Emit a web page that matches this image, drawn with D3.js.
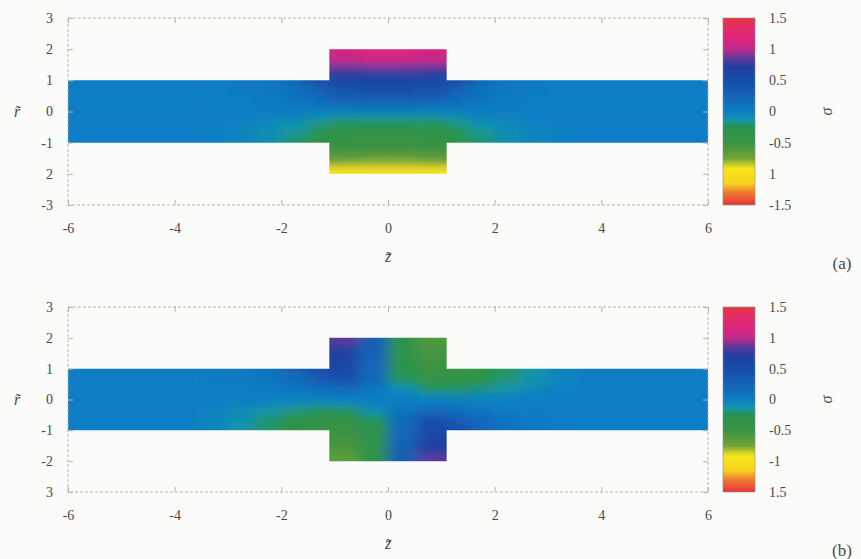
<!DOCTYPE html>
<html>
<head>
<meta charset="utf-8">
<script src="https://cdn.jsdelivr.net/npm/d3@7"></script>
<style>
  body { margin: 0; background: #fbfbf9; }
  text { font-family: "Liberation Serif", "DejaVu Serif", serif; fill: #4a4a4a; }
</style>
</head>
<body>
<div id="chart"></div>
<script>
// grid edges (z columns and r rows)
const zEdges = [-6, -4.5, -3.5, -3, -2.5, -2, -1.5, -1.1, -0.55, 0, 0.55, 1.1, 1.5, 2, 2.5, 3, 3.5, 4.5, 6];
const cavityEdges = [-1.1, -0.55, 0, 0.55, 1.1];
const rChannel = [1, 0.75, 0.5, 0.25, 0, -0.25, -0.5, -0.75, -1];
const rUpper = [2, 1.75, 1.5, 1.25, 1];
const rLower = [-1, -1.25, -1.5, -1.75, -2];

// tick labels
const xTicks = [-6, -4, -2, 0, 2, 4, 6];
const xLabels = ["-6", "-4", "-2", "0", "2", "4", "6"];
const yTicks = [3, 2, 1, 0, -1, -2, -3];
const yLabelsA = ["3", "2", "1", "0", "-1", "2", "-3"];
const yLabelsB = ["3", "2", "1", "0", "-1", "-2", "3"];
const cTicks = [1.5, 1, 0.5, 0, -0.5, -1, -1.5];
const cLabelsA = ["1.5", "1", "0.5", "0", "-0.5", "1", "-1.5"];
const cLabelsB = ["1.5", "1", "0.5", "0", "-0.5", "-1", "1.5"];

// colour map
const stopValues = [-1.5, -1.3, -1.15, -0.92, -0.85, -0.75, -0.5, -0.24, -0.15, 0, 0.2, 0.45, 0.7, 0.85, 1.0, 1.15, 1.35, 1.5];
const stopColors = ["#e8343a", "#ef7a30", "#f6d41e", "#f8e41c", "#c6cd2a", "#6fa338", "#3b9242", "#25934f", "#1498a6", "#0a7dc5", "#1268b8", "#1550ad", "#1e40a0", "#5a3a9c", "#bf2a8a", "#dc2580", "#e42c66", "#e8343c"];

// panel (a) values
const channelA = [
  [0, 0, 0, 0.02, 0.06, 0.15, 0.35, 0.52, 0.55, 0.55, 0.52, 0.35, 0.15, 0.06, 0.02, 0, 0, 0],
  [0, 0, 0, 0.01, 0.04, 0.12, 0.28, 0.42, 0.45, 0.45, 0.42, 0.28, 0.12, 0.04, 0.01, 0, 0, 0],
  [0, 0, 0, 0, 0.02, 0.07, 0.16, 0.25, 0.28, 0.28, 0.25, 0.16, 0.07, 0.02, 0, 0, 0, 0],
  [0, 0, 0, 0, 0.01, 0.03, 0.06, 0.1, 0.11, 0.11, 0.1, 0.06, 0.03, 0.01, 0, 0, 0, 0],
  [0, 0, 0, 0, -0.01, -0.03, -0.06, -0.09, -0.1, -0.1, -0.09, -0.06, -0.03, -0.01, 0, 0, 0, 0],
  [0, 0, 0, -0.02, -0.05, -0.1, -0.18, -0.25, -0.27, -0.27, -0.25, -0.18, -0.1, -0.05, -0.02, 0, 0, 0],
  [0, 0, -0.01, -0.03, -0.08, -0.16, -0.26, -0.34, -0.36, -0.36, -0.34, -0.26, -0.16, -0.08, -0.03, -0.01, 0, 0],
  [0, 0, -0.01, -0.04, -0.1, -0.2, -0.32, -0.42, -0.45, -0.45, -0.42, -0.32, -0.2, -0.1, -0.04, -0.01, 0, 0]
];
const upperA = [
  [1.1, 1.15, 1.15, 1.1],
  [1.0, 1.05, 1.05, 1.0],
  [0.82, 0.85, 0.85, 0.82],
  [0.65, 0.68, 0.68, 0.65]
];
const lowerA = [
  [-0.48, -0.5, -0.5, -0.48],
  [-0.58, -0.6, -0.6, -0.58],
  [-0.74, -0.77, -0.77, -0.74],
  [-0.95, -0.98, -0.98, -0.95]
];

// panel (b) values
const channelB = [
  [0, 0, 0.02, 0.04, 0.1, 0.22, 0.4, 0.55, 0.2, -0.3, -0.45, -0.42, -0.35, -0.22, -0.12, -0.05, 0, 0],
  [0, 0, 0, 0.02, 0.07, 0.16, 0.32, 0.45, 0.18, -0.22, -0.4, -0.38, -0.3, -0.2, -0.11, -0.04, 0, 0],
  [0, 0, 0, 0, 0.03, 0.08, 0.16, 0.22, 0.1, -0.1, -0.25, -0.26, -0.2, -0.13, -0.07, -0.02, 0, 0],
  [0, 0, 0, 0, 0, 0.02, 0.04, 0.05, 0.02, -0.03, -0.07, -0.08, -0.07, -0.05, -0.02, 0, 0, 0],
  [0, 0, 0, -0.02, -0.05, -0.07, -0.08, -0.07, -0.03, 0.02, 0.05, 0.04, 0.02, 0, 0, 0, 0, 0],
  [0, 0, -0.02, -0.07, -0.13, -0.2, -0.26, -0.25, -0.1, 0.1, 0.22, 0.16, 0.08, 0.03, 0, 0, 0, 0],
  [0, 0, -0.04, -0.11, -0.2, -0.3, -0.38, -0.4, -0.22, 0.18, 0.45, 0.32, 0.16, 0.07, 0.02, 0, 0, 0],
  [0, 0, -0.05, -0.12, -0.22, -0.35, -0.42, -0.45, -0.3, 0.2, 0.55, 0.4, 0.22, 0.1, 0.04, 0.02, 0, 0]
];
const upperB = [
  [0.85, 0.3, -0.35, -0.6],
  [0.7, 0.28, -0.35, -0.55],
  [0.65, 0.25, -0.35, -0.55],
  [0.6, 0.22, -0.32, -0.5]
];
const lowerB = [
  [-0.5, -0.32, 0.22, 0.6],
  [-0.55, -0.35, 0.25, 0.65],
  [-0.58, -0.35, 0.28, 0.7],
  [-0.66, -0.35, 0.3, 0.85]
];

let svg = d3.select("#chart")
  .append("svg")
  .attr("width", 861)
  .attr("height", 559);

let defs = svg.append("defs");

let color = d3.scaleLinear().domain(stopValues).range(stopColors).clamp(true);

// colour bar gradient
let grad = defs.append("linearGradient")
  .attr("id", "cbar")
  .attr("x1", 0).attr("y1", 1).attr("x2", 0).attr("y2", 0);
let gpos = d3.scaleLinear().domain([-1.5, 1.5]).range([0, 1]);
stopValues.forEach(function (v, i) {
  grad.append("stop").attr("offset", gpos(v)).attr("stop-color", stopColors[i]);
});

function drawPanel(id, top, bottom, channel, upper, lower, yLabels, cLabels, tag) {
  let x = d3.scaleLinear().domain([-6, 6]).range([68, 708]);
  let y = d3.scaleLinear().domain([-3, 3]).range([bottom, top]);
  let pad = 30;

  // blur + clip for the smooth field
  defs.append("filter")
    .attr("id", "blur" + id)
    .attr("filterUnits", "userSpaceOnUse")
    .attr("x", 0).attr("y", top - 60).attr("width", 800).attr("height", bottom - top + 120)
    .append("feGaussianBlur")
    .attr("stdDeviation", "7 4");

  let clip = defs.append("clipPath").attr("id", "clip" + id);
  clip.append("rect")
    .attr("x", x(-6)).attr("y", y(1))
    .attr("width", x(6) - x(-6)).attr("height", y(-1) - y(1));
  clip.append("rect")
    .attr("x", x(-1.1)).attr("y", y(2))
    .attr("width", x(1.1) - x(-1.1)).attr("height", y(-2) - y(2));

  let cells = [];
  let nc = zEdges.length - 1;
  channel.forEach(function (row, i) {
    row.forEach(function (v, j) {
      let inCav = zEdges[j] >= -1.1 && zEdges[j + 1] <= 1.1;
      let x0 = x(zEdges[j]), x1 = x(zEdges[j + 1]);
      let y0 = y(rChannel[i]), y1 = y(rChannel[i + 1]);
      if (j == 0) x0 -= pad;
      if (j == nc - 1) x1 += pad;
      if (i == 0 && !inCav) y0 = y(2) - pad;
      if (i == channel.length - 1 && !inCav) y1 = y(-2) + pad;
      cells.push({ x0: x0, x1: x1, y0: y0, y1: y1, v: v });
    });
  });
  [[upper, rUpper, "up"], [lower, rLower, "down"]].forEach(function (part) {
    let m = part[0], edges = part[1];
    m.forEach(function (row, i) {
      row.forEach(function (v, k) {
        let x0 = x(cavityEdges[k]), x1 = x(cavityEdges[k + 1]);
        let y0 = y(edges[i]), y1 = y(edges[i + 1]);
        if (k == 0) x0 -= pad;
        if (k == row.length - 1) x1 += pad;
        if (part[2] == "up" && i == 0) y0 -= pad;
        if (part[2] == "down" && i == m.length - 1) y1 += pad;
        cells.push({ x0: x0, x1: x1, y0: y0, y1: y1, v: v });
      });
    });
  });

  svg.append("g")
    .attr("clip-path", "url(#clip" + id + ")")
    .append("g")
    .attr("filter", "url(#blur" + id + ")")
    .selectAll("rect")
    .data(cells)
    .enter().append("rect")
    .attr("x", function (d) { return d.x0; })
    .attr("y", function (d) { return d.y0; })
    .attr("width", function (d) { return d.x1 - d.x0 + 0.5; })
    .attr("height", function (d) { return d.y1 - d.y0 + 0.5; })
    .attr("fill", function (d) { return color(d.v); });

  // frame
  svg.append("rect")
    .attr("x", x(-6)).attr("y", y(3))
    .attr("width", x(6) - x(-6)).attr("height", y(-3) - y(3))
    .attr("fill", "none")
    .attr("stroke", "#b9b6a8")
    .attr("stroke-dasharray", "3,2");

  let gx = svg.append("g")
    .attr("transform", "translate(0," + bottom + ")")
    .call(d3.axisBottom(x).tickValues(xTicks).tickSize(-5).tickPadding(18)
      .tickFormat(function (d, i) { return xLabels[i]; }));
  let gxt = svg.append("g")
    .attr("transform", "translate(0," + top + ")")
    .call(d3.axisTop(x).tickValues(xTicks).tickSize(-5).tickFormat(""));
  let gy = svg.append("g")
    .attr("transform", "translate(" + x(-6) + ",0)")
    .call(d3.axisLeft(y).tickValues(yTicks).tickSize(-5).tickPadding(15)
      .tickFormat(function (d, i) { return yLabels[i]; }));
  let gyr = svg.append("g")
    .attr("transform", "translate(" + x(6) + ",0)")
    .call(d3.axisRight(y).tickValues(yTicks).tickSize(-5).tickFormat(""));
  [gx, gxt, gy, gyr].forEach(function (g) {
    g.select(".domain").remove();
    g.selectAll("line").attr("stroke", "#b9b6a8");
    g.selectAll("text")
      .style("font-family", "Liberation Serif")
      .style("font-size", "14px")
      .attr("fill", "#4a4a4a");
  });

  // axis titles
  svg.append("text")
    .attr("x", 17).attr("y", y(0) + 5)
    .attr("text-anchor", "middle")
    .style("font-size", "16px")
    .style("font-style", "italic")
    .text("r\u0303");
  svg.append("text")
    .attr("x", x(0)).attr("y", bottom + 57)
    .attr("text-anchor", "middle")
    .style("font-size", "16px")
    .style("font-style", "italic")
    .text("z\u0303");

  // colour bar
  let cy = d3.scaleLinear().domain([-1.5, 1.5]).range([bottom, top]);
  svg.append("rect")
    .attr("x", 723).attr("y", cy(1.5))
    .attr("width", 32).attr("height", cy(-1.5) - cy(1.5))
    .attr("fill", "url(#cbar)")
    .attr("stroke", "#8a8a8a")
    .attr("stroke-width", 0.6);
  let gc = svg.append("g")
    .attr("transform", "translate(755,0)")
    .call(d3.axisRight(cy).tickValues(cTicks).tickSize(0).tickPadding(14)
      .tickFormat(function (d, i) { return cLabels[i]; }));
  gc.select(".domain").remove();
  gc.selectAll("text")
    .style("font-family", "Liberation Serif")
    .style("font-size", "14px")
    .attr("fill", "#4a4a4a");

  svg.append("text")
    .attr("transform", "translate(826," + cy(0) + ") rotate(-90)")
    .attr("text-anchor", "middle")
    .attr("dy", "0.35em")
    .style("font-size", "16px")
    .style("font-style", "italic")
    .text("\u03c3");

  svg.append("text")
    .attr("x", 842).attr("y", bottom + 64)
    .attr("text-anchor", "middle")
    .style("font-size", "17px")
    .text(tag);
}

drawPanel("a", 18, 205, channelA, upperA, lowerA, yLabelsA, cLabelsA, "(a)");
drawPanel("b", 307, 492, channelB, upperB, lowerB, yLabelsB, cLabelsB, "(b)");
</script>
</body>
</html>
